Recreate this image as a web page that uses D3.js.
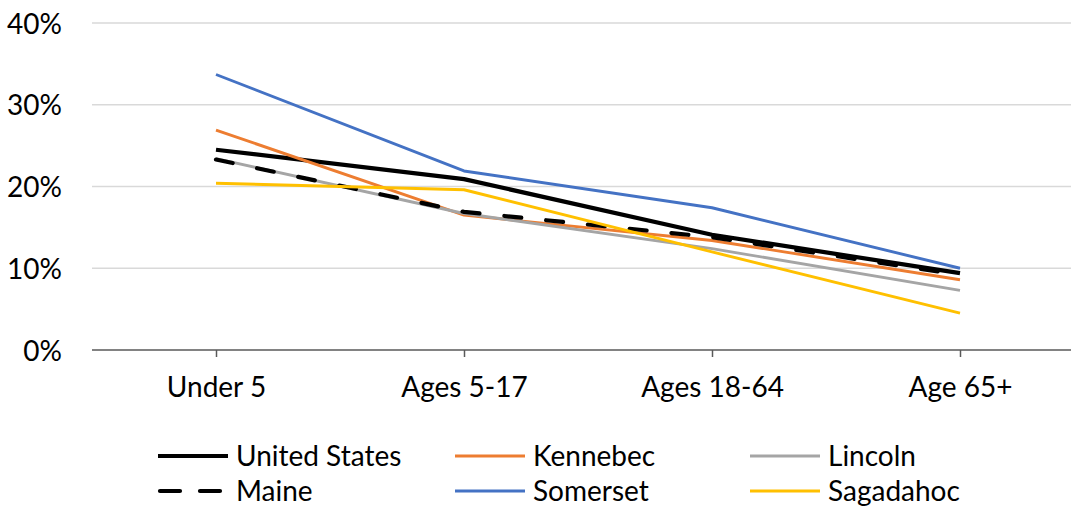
<!DOCTYPE html>
<html>
<head>
<meta charset="utf-8">
<script src="https://cdn.jsdelivr.net/npm/d3@7"></script>
<style>
  html, body { margin: 0; padding: 0; background: #fff; }
  svg text { font-family: Lato, "Open Sans", sans-serif; fill: #000; }
</style>
</head>
<body>
<svg id="chart" width="1071" height="508"></svg>
<script>
// Age groups along the x axis
const categories = ["Under 5", "Ages 5-17", "Ages 18-64", "Age 65+"];

// Share of each age group (percent), by area
const unitedStates = [24.5, 20.9, 14.1, 9.4];
const kennebec     = [26.9, 16.5, 13.4, 8.6];
const lincoln      = [23.4, 16.7, 12.4, 7.3];
const maine        = [23.3, 16.9, 13.8, 9.2];
const somerset     = [33.7, 21.9, 17.4, 10.0];
const sagadahoc    = [20.4, 19.6, 12.0, 4.5];

const seriesNames = ["United States", "Kennebec", "Lincoln", "Maine", "Somerset", "Sagadahoc"];
const seriesValues = [unitedStates, kennebec, lincoln, maine, somerset, sagadahoc];

const yTicks = [0, 10, 20, 30, 40];

const styles = {
  "United States": { color: "#000000", width: 4.2, dash: null },
  "Kennebec":      { color: "#ED7D31", width: 2.9, dash: null },
  "Lincoln":       { color: "#A5A5A5", width: 2.9, dash: null },
  "Maine":         { color: "#000000", width: 4.2, dash: "17,25" },
  "Somerset":      { color: "#4472C4", width: 2.9, dash: null },
  "Sagadahoc":     { color: "#FFC000", width: 2.9, dash: null }
};

const svg = d3.select("#chart");
const plot = { left: 92, right: 1084, top: 23, bottom: 350 };

const x = d3.scalePoint()
  .domain(categories)
  .range([plot.left, plot.right])
  .padding(0.5);

const y = d3.scaleLinear()
  .domain([0, 40])
  .range([plot.bottom, plot.top]);

// Horizontal gridlines
svg.append("g")
  .selectAll("line")
  .data(yTicks.filter(d => d > 0))
  .join("line")
  .attr("x1", plot.left).attr("x2", plot.right)
  .attr("y1", d => y(d)).attr("y2", d => y(d))
  .attr("stroke", "#d9d9d9").attr("stroke-width", 1.3);

// Y axis labels
const yAxis = d3.axisLeft(y).tickValues(yTicks).tickFormat(d => d + "%").tickSize(0).tickPadding(0);
const gy = svg.append("g").attr("transform", `translate(${plot.left - 30},0)`).call(yAxis);
gy.select(".domain").remove();
gy.selectAll("text")
  .attr("font-size", 28)
  .attr("font-family", "Lato, sans-serif")
  .attr("fill", "#000")
  .attr("dy", "0.36em");

// X axis
const xAxis = d3.axisBottom(x).tickSize(7).tickPadding(20);
const gx = svg.append("g").attr("transform", `translate(0,${plot.bottom})`).call(xAxis);
gx.select(".domain").attr("d", `M${plot.left},0H${plot.right}`).attr("stroke", "#595959").attr("stroke-width", 1.5);
gx.selectAll(".tick line").attr("stroke", "#595959").attr("stroke-width", 1.5);
gx.selectAll("text")
  .attr("font-size", 28)
  .attr("font-family", "Lato, sans-serif")
  .attr("fill", "#000");

// Series lines
const line = d3.line()
  .x((d, i) => x(categories[i]))
  .y(d => y(d));

svg.append("g")
  .selectAll("path")
  .data(seriesNames.map((n, i) => ({ name: n, values: seriesValues[i] })))
  .join("path")
  .attr("d", d => line(d.values))
  .attr("fill", "none")
  .attr("stroke", d => styles[d.name].color)
  .attr("stroke-width", d => styles[d.name].width)
  .attr("stroke-dasharray", d => styles[d.name].dash)
  .attr("stroke-linejoin", "round")
  .attr("stroke-linecap", d => styles[d.name].dash ? "round" : "butt");

// Legend: three columns, two rows
const legendCols = [158, 455, 750];
const legendRows = [456, 491];
const legend = svg.append("g");
seriesNames.forEach((name, i) => {
  const cx = legendCols[i % 3];
  const cy = legendRows[Math.floor(i / 3)];
  const s = styles[name];
  const g = legend.append("g");
  g.append("line")
    .attr("x1", s.dash ? cx + 2 : cx).attr("x2", s.dash ? cx + 68 : cx + 70)
    .attr("y1", cy).attr("y2", cy)
    .attr("stroke", s.color)
    .attr("stroke-width", s.width)
    .attr("stroke-dasharray", s.dash ? "20,20" : null)
    .attr("stroke-linecap", s.dash ? "round" : "butt");
  g.append("text")
    .attr("x", cx + 78).attr("y", cy)
    .attr("dy", "0.34em")
    .attr("font-size", 28)
    .text(name);
});
</script>
</body>
</html>
